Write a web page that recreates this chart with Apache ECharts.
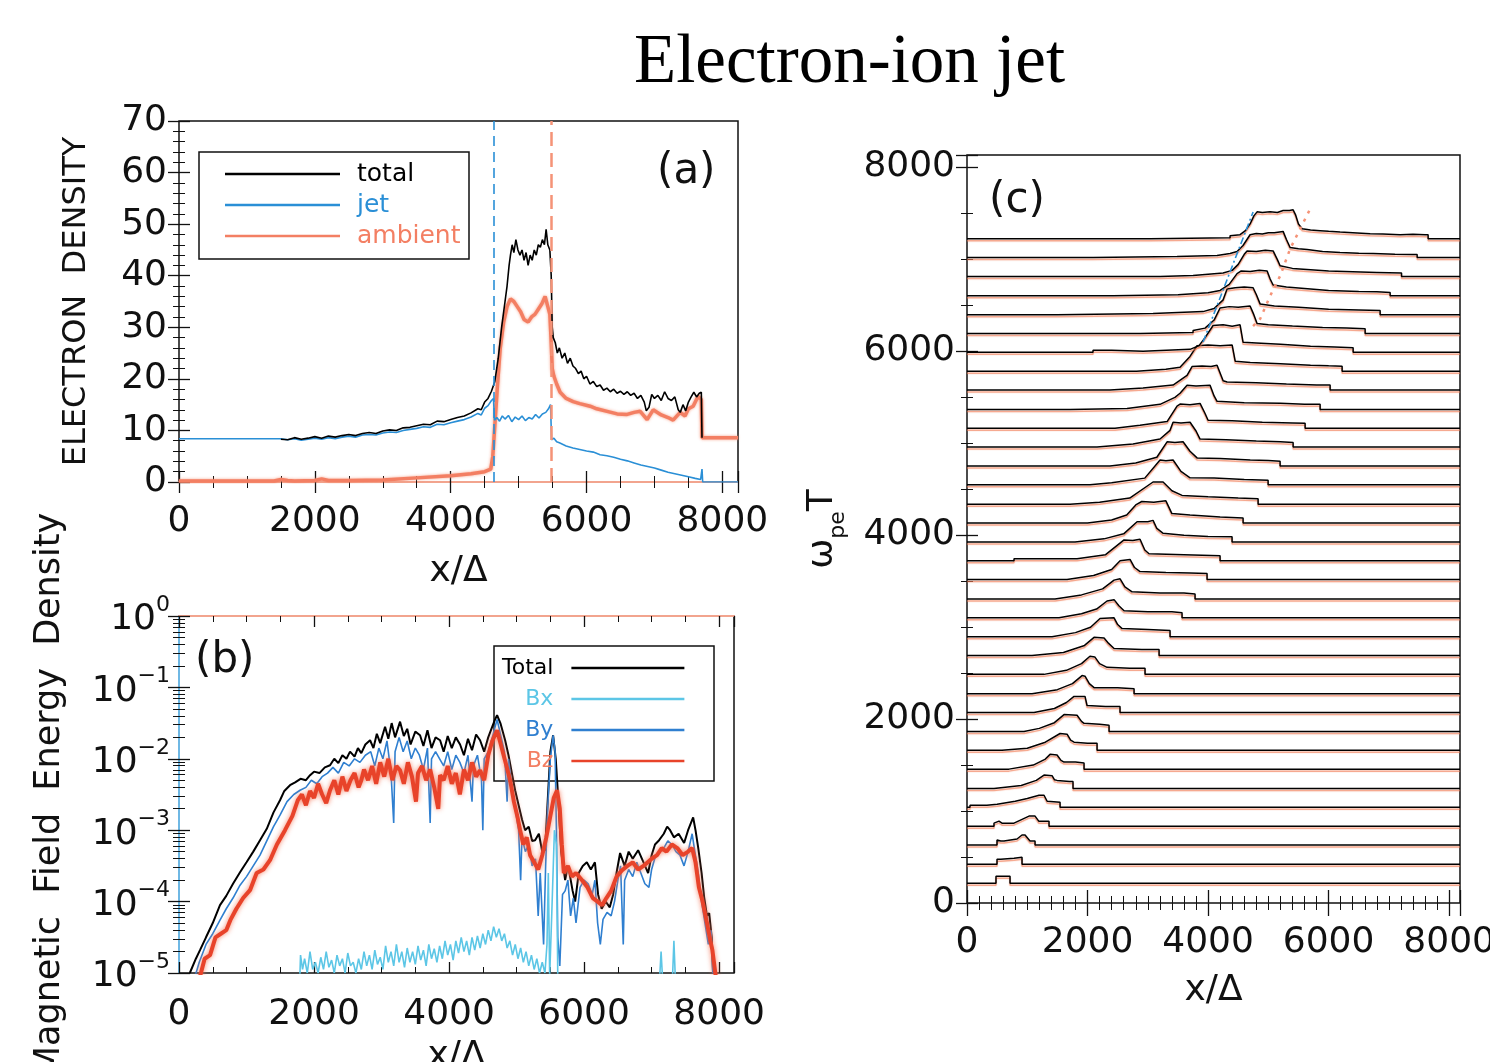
<!DOCTYPE html>
<html><head><meta charset="utf-8">
<script src="https://cdn.jsdelivr.net/npm/echarts@6/dist/echarts.min.js"></script>
<style>html,body{margin:0;padding:0;background:#fff}#c{width:1490px;height:1062px}</style>
</head><body><div id="c"></div>
<script>
// ---------- panel (a): electron density vs x/Δ ----------
const aTotal = [[1500,8.3],[1600,8.2],[1700,8.6],[1800,8.3],[1900,8.5],[2000,8.8],[2100,8.5],[2200,8.9],[2300,8.7],[2400,9.0],[2500,9.2],[2600,9.0],[2700,9.4],[2800,9.6],[2900,9.4],[3000,9.9],[3100,10.1],[3200,10.0],[3300,10.5],[3400,10.6],[3500,10.9],[3600,11.2],[3700,11.1],[3800,11.8],[3900,11.7],[4000,12.1],[4100,12.5],[4200,12.8],[4300,13.4],[4400,14.2],[4450,14.0],[4500,15.5],[4550,16.2],[4600,17.6],[4650,19.5],[4700,24],[4750,30],[4800,35],[4830,38],[4860,42],[4880,44],[4905,46],[4930,44.5],[4960,47],[4990,45],[5020,44],[5050,45],[5080,43],[5110,44.5],[5140,42],[5170,44],[5200,43],[5230,45],[5260,44],[5290,46],[5320,45.5],[5350,47],[5380,46],[5405,49],[5430,46],[5460,45],[5480,40],[5495,30],[5510,28],[5540,27],[5570,25],[5600,26],[5640,24],[5680,25],[5720,23],[5760,24],[5800,22.5],[5840,22],[5880,21],[5920,21.5],[5960,20],[6000,20.5],[6050,19],[6100,19.5],[6150,18.5],[6200,18.8],[6250,17.8],[6300,18.2],[6350,17.5],[6400,18],[6450,17.2],[6500,17.6],[6550,17.0],[6600,17.5],[6650,16.8],[6700,17.2],[6750,16.2],[6800,16.8],[6850,15.5],[6880,13.8],[6920,14.5],[6960,17],[7000,16.2],[7050,16.8],[7100,15.8],[7150,17.5],[7200,16.2],[7250,15.8],[7300,16.5],[7350,14],[7380,13.5],[7420,15],[7460,13.8],[7500,15.5],[7540,16.5],[7580,17.4],[7620,16.5],[7660,17.2],[7690,17.4],[7700,8.6]];
const aJet = [[0,8.4],[1500,8.4],[1600,8.2],[1700,8.4],[1800,8.1],[1900,8.3],[2000,8.5],[2100,8.3],[2200,8.6],[2300,8.4],[2400,8.7],[2500,8.9],[2600,8.7],[2700,9.1],[2800,9.2],[2900,9.1],[3000,9.5],[3100,9.7],[3200,9.6],[3300,10.0],[3400,10.2],[3500,10.4],[3600,10.7],[3700,10.6],[3800,11.2],[3900,11.1],[4000,11.5],[4100,11.8],[4200,12.1],[4300,12.6],[4400,13.3],[4450,13.0],[4500,14.3],[4550,14.8],[4600,15.8],[4630,16.2],[4645,12.0],[4680,12.5],[4720,11.8],[4760,12.8],[4800,12.2],[4850,12.9],[4900,11.7],[4950,12.6],[5000,12.1],[5050,12.8],[5100,11.9],[5150,12.5],[5200,12.2],[5250,13.1],[5300,12.4],[5350,13.2],[5400,13.5],[5440,14.2],[5470,15.0],[5485,8.2],[5520,8.5],[5560,7.8],[5600,7.6],[5700,7.0],[5800,6.6],[5900,6.3],[6000,6.0],[6100,5.8],[6200,5.3],[6300,5.1],[6400,4.8],[6500,4.4],[6600,4.1],[6700,3.7],[6800,3.3],[6900,3.0],[7000,2.7],[7100,2.3],[7200,1.9],[7300,1.6],[7400,1.3],[7500,1.0],[7600,0.7],[7680,0.5],[7700,2.5],[7710,0],[8230,0]];
const aAmbient = [[0,0.2],[1400,0.2],[1500,0.5],[1600,0.3],[1700,0.2],[2000,0.3],[2100,0.6],[2200,0.3],[2500,0.3],[3000,0.4],[3500,0.8],[4000,1.2],[4300,1.6],[4500,2.0],[4590,2.5],[4620,5],[4650,11],[4690,19],[4730,26],[4780,31],[4830,34],[4880,35.5],[4930,35],[4980,34],[5030,33],[5080,31.5],[5140,31],[5190,32],[5240,32.5],[5290,33.5],[5340,34.5],[5390,36],[5430,34],[5460,32.5],[5480,27],[5495,22],[5520,20.5],[5560,19],[5611,17.4],[5700,16.2],[5803,15.6],[5900,15.2],[6053,14.7],[6150,14.2],[6303,13.7],[6450,13.2],[6598,13.1],[6700,13.5],[6790,13.7],[6892,12.1],[6981,14],[7100,13],[7200,12.5],[7275,12],[7378,13.5],[7450,12.8],[7500,14.2],[7570,14.7],[7640,16.6],[7690,16],[7700,8.6],[8230,8.6]];
const aFronts = [4640, 5480];

// ---------- panel (b): magnetic field energy density (log10 values) ----------
const bTotalExp = [[160,-5.0],[250,-4.8],[311,-4.68],[400,-4.5],[500,-4.3],[607,-4.05],[700,-3.92],[800,-3.75],[904,-3.59],[1000,-3.45],[1100,-3.3],[1200,-3.14],[1300,-2.98],[1400,-2.75],[1496,-2.58],[1560,-2.45],[1644,-2.37],[1720,-2.33],[1800,-2.28],[1880,-2.3],[1941,-2.23],[2000,-2.18],[2080,-2.2],[2160,-2.12],[2237,-2.09],[2300,-2.0],[2360,-2.06],[2420,-1.95],[2480,-2.0],[2533,-1.9],[2600,-1.97],[2650,-1.85],[2700,-1.92],[2760,-1.8],[2830,-1.74],[2880,-1.85],[2930,-1.65],[2980,-1.78],[3052,-1.55],[3100,-1.72],[3150,-1.5],[3200,-1.7],[3274,-1.48],[3330,-1.68],[3380,-1.58],[3430,-1.8],[3500,-1.62],[3570,-1.67],[3620,-1.82],[3680,-1.6],[3740,-1.85],[3800,-1.7],[3867,-1.74],[3920,-1.9],[3980,-1.68],[4040,-1.85],[4100,-1.7],[4163,-1.8],[4220,-1.95],[4280,-1.72],[4340,-1.88],[4400,-1.66],[4459,-1.74],[4520,-1.9],[4580,-1.7],[4640,-1.55],[4680,-1.45],[4711,-1.39],[4760,-1.5],[4830,-1.74],[4880,-1.95],[4930,-2.2],[4978,-2.44],[5030,-2.65],[5080,-2.85],[5126,-3.0],[5180,-2.95],[5230,-3.15],[5274,-3.14],[5330,-3.05],[5380,-3.3],[5422,-3.28],[5460,-2.6],[5500,-1.9],[5541,-1.67],[5580,-2.0],[5620,-2.6],[5660,-3.3],[5719,-3.7],[5760,-3.5],[5793,-3.65],[5830,-3.85],[5867,-4.0],[5920,-3.6],[5980,-3.5],[6040,-3.45],[6100,-3.55],[6160,-3.45],[6207,-3.9],[6260,-4.1],[6320,-4.0],[6380,-4.08],[6430,-3.9],[6480,-3.6],[6533,-3.32],[6600,-3.5],[6660,-3.3],[6720,-3.4],[6800,-3.28],[6880,-3.45],[6948,-3.6],[7000,-3.35],[7050,-3.2],[7111,-3.14],[7180,-3.05],[7230,-2.95],[7274,-3.0],[7330,-3.1],[7400,-3.05],[7481,-3.18],[7540,-3.0],[7615,-2.82],[7650,-3.0],[7689,-3.24],[7740,-3.6],[7778,-3.94],[7820,-4.2],[7852,-4.16],[7890,-4.5],[7911,-5.05]];
const bByExp = [[237,-5.05],[300,-4.85],[400,-4.6],[500,-4.45],[607,-4.26],[700,-4.1],[800,-3.95],[904,-3.77],[1000,-3.65],[1100,-3.5],[1200,-3.35],[1300,-3.15],[1400,-2.95],[1496,-2.79],[1600,-2.6],[1700,-2.5],[1793,-2.44],[1880,-2.4],[1960,-2.3],[2040,-2.35],[2120,-2.25],[2200,-2.2],[2280,-2.12],[2360,-2.2],[2440,-2.05],[2520,-2.1],[2600,-2.0],[2680,-2.05],[2760,-1.95],[2840,-1.9],[2900,-2.1],[2960,-1.85],[3020,-2.0],[3080,-1.75],[3140,-2.2],[3180,-2.9],[3200,-1.9],[3260,-1.7],[3320,-1.9],[3380,-1.75],[3440,-2.0],[3500,-1.85],[3560,-1.95],[3620,-2.15],[3680,-1.85],[3720,-2.9],[3740,-2.0],[3800,-1.9],[3860,-2.0],[3920,-2.1],[3980,-1.9],[4040,-2.15],[4100,-1.95],[4160,-2.05],[4220,-2.2],[4280,-1.95],[4340,-2.6],[4360,-2.1],[4420,-1.95],[4480,-2.3],[4500,-3.0],[4520,-2.0],[4580,-1.9],[4640,-1.7],[4711,-1.45],[4760,-1.65],[4820,-1.9],[4860,-2.6],[4880,-2.0],[4930,-2.4],[4980,-2.7],[5030,-3.0],[5060,-3.7],[5080,-3.1],[5130,-3.3],[5180,-3.2],[5230,-3.5],[5280,-3.4],[5320,-4.2],[5350,-3.6],[5400,-4.6],[5430,-3.5],[5460,-2.7],[5500,-2.0],[5541,-1.67],[5570,-1.9],[5590,-3.0],[5610,-4.5],[5640,-4.9],[5680,-3.9],[5719,-3.85],[5760,-3.7],[5800,-4.2],[5840,-3.95],[5880,-4.3],[5940,-3.8],[6000,-3.7],[6060,-3.75],[6120,-3.9],[6160,-3.7],[6200,-4.3],[6240,-4.6],[6280,-4.25],[6340,-4.15],[6400,-4.2],[6450,-4.0],[6500,-3.7],[6540,-3.5],[6580,-4.6],[6600,-3.7],[6660,-3.55],[6720,-3.65],[6780,-3.45],[6840,-3.6],[6900,-3.75],[6960,-3.8],[7000,-3.55],[7060,-3.35],[7120,-3.3],[7180,-3.25],[7240,-3.15],[7300,-3.2],[7360,-3.3],[7420,-3.35],[7480,-3.5],[7540,-3.3],[7600,-3.05],[7640,-3.3],[7690,-3.6],[7740,-4.0],[7790,-4.3],[7840,-4.6],[7880,-4.4],[7910,-5.05]];
const bBzExp = [[311,-5.05],[380,-4.8],[460,-4.75],[540,-4.5],[620,-4.45],[700,-4.4],[760,-4.26],[850,-4.1],[950,-3.95],[1052,-3.84],[1150,-3.6],[1250,-3.55],[1348,-3.42],[1450,-3.2],[1570,-3.0],[1680,-2.8],[1760,-2.58],[1820,-2.5],[1880,-2.65],[1940,-2.45],[2000,-2.55],[2060,-2.35],[2120,-2.5],[2180,-2.62],[2237,-2.44],[2300,-2.3],[2360,-2.5],[2420,-2.25],[2480,-2.45],[2540,-2.3],[2600,-2.2],[2660,-2.4],[2700,-2.3],[2740,-2.15],[2800,-2.3],[2860,-2.1],[2920,-2.35],[2980,-2.05],[3040,-2.25],[3100,-2.0],[3160,-2.3],[3220,-2.1],[3274,-2.16],[3330,-2.35],[3390,-2.05],[3450,-2.25],[3510,-2.6],[3540,-2.2],[3600,-2.1],[3660,-2.3],[3720,-2.15],[3780,-2.4],[3840,-2.7],[3867,-2.23],[3920,-2.3],[3980,-2.1],[4040,-2.35],[4100,-2.2],[4160,-2.5],[4220,-2.15],[4280,-2.3],[4340,-2.05],[4400,-2.25],[4459,-2.16],[4520,-2.3],[4580,-1.95],[4640,-1.75],[4711,-1.6],[4780,-1.85],[4850,-2.1],[4904,-2.3],[4960,-2.6],[5010,-2.8],[5052,-3.0],[5100,-3.2],[5150,-3.1],[5200,-3.35],[5260,-3.45],[5320,-3.55],[5380,-3.35],[5440,-3.1],[5500,-2.8],[5550,-2.55],[5600,-2.44],[5640,-2.7],[5670,-3.2],[5700,-3.6],[5760,-3.5],[5820,-3.65],[5880,-3.6],[5970,-3.7],[6050,-3.8],[6130,-3.95],[6200,-4.0],[6267,-4.05],[6330,-3.95],[6400,-3.85],[6480,-3.65],[6563,-3.56],[6640,-3.5],[6720,-3.45],[6800,-3.55],[6880,-3.5],[7000,-3.4],[7080,-3.35],[7150,-3.25],[7220,-3.3],[7300,-3.2],[7380,-3.25],[7460,-3.35],[7540,-3.3],[7600,-3.25],[7650,-3.45],[7700,-3.8],[7750,-3.98],[7820,-4.3],[7870,-4.55],[7900,-4.68],[7950,-5.05]];
const bBxExp = [[1790,-5.05],[1800,-4.75],[1830,-4.95],[1860,-4.8],[1900,-5.0],[1940,-4.7],[1980,-4.95],[2020,-4.85],[2060,-5.0],[2100,-4.78],[2140,-4.95],[2180,-4.7],[2220,-4.92],[2260,-4.82],[2300,-5.0],[2340,-4.75],[2380,-4.9],[2420,-4.8],[2460,-5.0],[2500,-4.72],[2540,-4.9],[2580,-4.85],[2620,-5.0],[2660,-4.8],[2700,-4.95],[2740,-4.7],[2780,-4.9],[2820,-4.75],[2860,-4.95],[2900,-4.68],[2940,-4.88],[2980,-4.78],[3020,-4.95],[3060,-4.62],[3100,-4.85],[3140,-4.7],[3180,-4.9],[3220,-4.6],[3260,-4.85],[3300,-4.7],[3340,-4.92],[3380,-4.65],[3420,-4.85],[3460,-4.7],[3500,-4.88],[3540,-4.62],[3580,-4.82],[3620,-4.68],[3660,-4.9],[3700,-4.6],[3740,-4.8],[3780,-4.66],[3820,-4.85],[3860,-4.62],[3900,-4.8],[3940,-4.55],[3980,-4.75],[4020,-4.6],[4060,-4.82],[4100,-4.55],[4140,-4.72],[4180,-4.5],[4220,-4.7],[4260,-4.55],[4300,-4.75],[4340,-4.5],[4380,-4.68],[4420,-4.48],[4460,-4.65],[4500,-4.45],[4540,-4.6],[4580,-4.4],[4620,-4.55],[4660,-4.35],[4700,-4.5],[4740,-4.38],[4780,-4.55],[4820,-4.45],[4860,-4.65],[4900,-4.55],[4940,-4.75],[4980,-4.6],[5020,-4.8],[5060,-4.65],[5100,-4.85],[5140,-4.7],[5180,-4.9],[5220,-4.75],[5260,-4.95],[5300,-4.8],[5340,-5.0],[5380,-4.85],[5420,-5.0],[5450,-4.6],[5470,-3.6],[5490,-5.05],[5520,-4.2],[5560,-3.0],[5590,-3.2],[5610,-5.05],[5620,null],[7120,-5.05],[7140,-4.7],[7160,-5.05],[7170,null],[7310,-5.05],[7330,-4.55],[7350,-5.05]];

// ---------- panel (c): stacked density profiles, one per time ω_pe T ----------
const cTimes = [215, 420, 630, 835, 1040, 1245, 1455, 1660, 1865, 2070, 2275, 2485, 2690, 2895, 3100, 3305, 3515, 3720, 3925, 4130, 4335, 4545, 4750, 4955, 5160, 5365, 5575, 5780, 5985, 6190, 6395, 6600, 6810, 7015, 7220];
// density excess (x/Δ, Δn) for each time above, bottom trace first
const cProfiles = [
 [[0,0],[481,0],[481,10.5],[714,10.5],[714,0],[8180,0]],
 [[0,0],[498,0],[498,7.5],[560,7.5],[580,9],[780,9],[800,10.5],[913,10.5],[913,0],[8180,0]],
 [[0,0],[498,0],[498,7.5],[560,6],[614,6],[830,9],[913,15],[963,15],[1046,6],[1129,6],[1129,0],[8180,0]],
 [[0,0],[448,0],[448,4.5],[531,7.5],[580,4.5],[780,4.5],[1029,15],[1129,15],[1190,7.5],[1361,7.5],[1361,0],[8180,0]],
 [[0,0],[50,0],[50,3],[330,3],[500,4.5],[800,9],[1000,13],[1195,18],[1278,18],[1330,9],[1361,7.5],[1544,7.5],[1544,0],[8180,0]],
 [[0,0],[448,0],[448,1.5],[900,4.5],[1150,12],[1278,20],[1411,19],[1450,13],[1494,12],[1700,10.5],[1759,10.5],[1759,0],[8180,0]],
 [[0,0],[697,0],[697,1.5],[1100,6],[1300,15],[1378,22],[1494,21],[1560,13],[1610,10.5],[1800,10.5],[1942,9],[1942,0],[8180,0]],
 [[0,0],[581,0],[581,1.5],[1000,3],[1000,4.5],[1300,12],[1544,25],[1660,24],[1720,15],[1776,12],[2000,10.5],[2158,10.5],[2158,0],[8180,0]],
 [[0,0],[946,0],[946,1.5],[1200,4.5],[1450,13],[1610,25],[1826,24],[1900,15],[1942,12],[2200,10.5],[2357,9],[2357,0],[8180,0]],
 [[0,0],[1112,0],[1112,1.5],[1450,6],[1650,15],[1776,24],[1958,24],[1992,10.5],[2300,9],[2539,9],[2539,0],[8180,0]],
 [[0,0],[1079,0],[1079,1.5],[1500,6],[1750,15],[1909,27],[1958,26],[2030,15],[2108,9],[2500,9],[2772,7.5],[2772,0],[8180,0]],
 [[0,0],[1278,0],[1278,1.5],[1650,6],[1900,16],[2040,27],[2120,26],[2200,16],[2324,10.5],[2700,9],[2954,9],[2954,0],[8180,0]],
 [[0,0],[1079,0],[1079,1.5],[1600,4.5],[1950,15],[2108,27],[2274,26],[2350,18],[2440,10.5],[2900,9],[3187,9],[3187,0],[8180,0]],
 [[0,0],[1411,0],[1411,1.5],[1800,6],[2050,14],[2207,27],[2440,28],[2500,18],[2573,12],[3000,10.5],[3369,9],[3369,0],[8180,0]],
 [[0,0],[1527,0],[1527,1.5],[1900,6],[2150,13],[2324,25],[2440,27],[2520,18],[2606,10.5],[3000,9],[3400,9],[3568,7.5],[3568,0],[8180,0]],
 [[0,0],[1461,0],[1461,1.5],[1900,6],[2250,15],[2440,28],[2540,30],[2620,18],[2739,10.5],[3200,9],[3600,9],[3784,7.5],[3784,0],[8180,0]],
 [[0,0],[1660,0],[1660,1.5],[2100,6],[2400,15],[2540,28],[2705,30],[2780,18],[2871,12],[3300,10.5],[3700,10],[3983,9],[3983,0],[8180,0]],
 [[0,0],[780,0],[780,3],[1300,3],[1330,1.5],[1380,3],[1826,3],[1826,4.5],[2300,9],[2606,31],[2750,30],[2871,32],[2950,16],[3020,10.5],[3600,9],[4199,7.5],[4199,0],[8180,0]],
 [[0,0],[1793,0],[1793,1.5],[2274,4.5],[2600,12],[2822,30],[3000,30],[3087,32],[3150,20],[3250,13],[3600,10],[4000,8],[4398,7.5],[4398,0],[8180,0]],
 [[0,0],[2000,0],[2000,1.5],[2400,4.5],[2650,12],[2800,27],[2900,32],[3100,31],[3300,33],[3400,14],[3700,12],[4200,9],[4581,7.5],[4581,0],[8180,0]],
 [[0,0],[1710,0],[1710,1.5],[2200,3],[2700,9],[3087,33],[3180,33],[3253,33],[3400,20],[3568,13],[4000,11],[4500,9],[4830,8],[4830,0],[8180,0]],
 [[0,0],[2041,0],[2041,1.5],[2400,3],[2950,10],[3203,37],[3300,36],[3419,37],[3550,20],[3701,10.5],[4100,10],[4600,8],[4996,7],[4996,0],[8180,0]],
 [[0,0],[2373,0],[2373,1.5],[2800,4.5],[3150,13],[3320,36],[3450,35],[3585,36],[3700,22],[3817,12],[4200,11],[4700,9],[5000,8],[5195,7],[5195,0],[8180,0]],
 [[0,0],[2158,0],[2158,1.5],[2755,4.5],[3203,12],[3369,25],[3419,37],[3550,36],[3701,37],[3800,24],[3867,12],[4300,11],[4800,9],[5200,8],[5411,7],[5411,0],[8180,0]],
 [[0,0],[2456,0],[2456,1.5],[2871,4.5],[3320,10],[3485,33],[3535,36],[3700,35],[3867,37],[3950,22],[4000,12],[4400,11],[4900,9],[5400,8],[5610,7.5],[5610,0],[8180,0]],
 [[0,0],[1710,0],[1710,1.5],[2656,1.5],[2656,3],[3203,7.5],[3450,18],[3535,24],[3651,36],[3800,35],[4033,36],[4100,20],[4149,12],[4600,10],[5200,9],[5600,7.5],[5859,7.5],[5859,0],[8180,0]],
 [[0,0],[2373,0],[2373,1.5],[2921,3],[3419,7.5],[3651,22],[3734,35],[3900,36],[4050,35],[4149,37],[4250,14],[4315,12],[4800,11],[5300,9],[5800,7.5],[6025,7.5],[6025,0],[8180,0]],
 [[0,0],[2813,0],[2813,1.5],[3300,3],[3535,6],[3700,22],[3817,38],[4000,39],[4200,38],[4400,39],[4450,15],[4700,13],[5200,11],[5700,9],[6000,8],[6224,7.5],[6224,0],[8180,0]],
 [[0,0],[2091,0],[2091,3],[2400,3],[2400,1.5],[2921,1.5],[2921,3],[3701,4.5],[3850,10],[3950,22],[4083,40],[4250,41],[4400,39],[4531,41],[4581,15],[4800,14],[5200,12],[5700,9],[6100,8],[6407,7],[6407,0],[8180,0]],
 [[0,0],[2871,0],[2871,1.5],[3751,1.5],[3751,4.5],[3950,8],[4100,20],[4199,38],[4350,40],[4500,39],[4697,41],[4750,30],[4813,15],[5000,13],[5400,11],[5900,9],[6300,8],[6606,7],[6606,0],[8180,0]],
 [[0,0],[1494,0],[1494,1.5],[3087,1.5],[3087,3],[3917,4.5],[4100,9],[4250,22],[4315,38],[4450,40],[4600,41],[4747,40],[4800,30],[4863,16],[5100,13],[5500,11],[6000,8],[6500,7],[6855,6],[6855,0],[8180,0]],
 [[0,0],[2423,0],[2423,1.5],[3502,1.5],[3502,3],[4000,4.5],[4200,8],[4350,17],[4481,33],[4550,37],[4700,36],[4850,38],[4980,37],[5030,25],[5079,16],[5300,13],[5600,11],[6000,8],[6500,6.5],[6800,6],[7021,5],[7021,0],[8180,0]],
 [[0,0],[3203,0],[3203,1.5],[3751,1.5],[3751,3],[4250,5],[4400,9],[4500,18],[4600,33],[4647,38],[4800,37],[4950,39],[5079,38],[5150,25],[5195,16],[5400,12],[5700,10],[6000,8],[6400,7],[6800,6],[7000,5.5],[7210,5],[7210,0],[8180,0]],
 [[0,0],[2091,0],[2091,1.5],[3485,1.5],[3485,3],[4149,3],[4149,4.5],[4365,6],[4481,9],[4580,18],[4697,34],[4800,36],[4900,35],[5000,37],[5100,37],[5245,39],[5300,27],[5361,15],[5500,13],[5643,12],[5900,9],[6190,7.5],[6500,6.5],[6739,6],[7100,5],[7403,4.5],[7469,4.5],[7469,0],[8180,0]],
 [[0,0],[3037,0],[3037,1.5],[4365,1.5],[4365,4.5],[4531,6],[4620,12],[4697,22],[4760,34],[4813,40],[4900,39],[5029,40],[5150,39],[5245,42],[5350,42],[5411,43],[5450,36],[5500,22],[5560,15],[5700,13],[5859,12],[6000,11],[6190,10],[6400,9],[6689,7.5],[6900,7],[7187,6],[7400,6.5],[7602,6],[7651,6],[7651,0],[8180,0]]
];
const cJetFront = [[3917,6098],[4747,7511]];
const cAmbientFront = [[4747,6270],[4863,6348],[5029,6598],[5195,6815],[5361,7109],[5577,7391],[5693,7543]];
const cDensityScale = 7.3; // ω_pe T units per unit of density excess

// ---------- styling ----------
const FONT = "'DejaVu Sans', sans-serif";
const INK = '#111';
const C_JET = '#2a8fd6', C_AMB = '#f37f63', C_BX = '#5cc6e6', C_BY = '#2f7fd0', C_BZ = '#e8432a';

function axis(o) {
  const a = {
    type: o.type || 'value', gridIndex: o.grid, position: o.pos,
    min: o.min, max: o.max,
    axisLine: o.lineColor ? {show: true, lineStyle: {color: o.lineColor, width: 2}} : {show: false},
    splitLine: {show: false},
    axisTick: {show: true, inside: true, length: o.tickLen || 11, lineStyle: {color: INK, width: 1.3}},
    minorTick: {show: true, splitNumber: o.minor, length: o.minorLen || 6, lineStyle: {color: INK, width: 1}},
    axisLabel: {show: !!o.labels, color: INK, fontFamily: FONT, fontSize: 36, margin: o.margin || 12,
      showMaxLabel: o.showMax !== false, hideOverlap: false,
      formatter: o.formatter || (v => String(v)), rich: o.rich},
    name: o.name, nameLocation: 'middle', nameGap: o.nameGap, nameRotate: o.nameRotate,
    nameTextStyle: Object.assign({color: INK, fontFamily: FONT, fontSize: 36}, o.nameStyle || {})
  };
  if (o.interval != null) a.interval = o.interval;
  if (o.logBase) a.logBase = o.logBase;
  if (o.splitNumber) a.splitNumber = o.splitNumber;
  return a;
}

const supRich = {
  b: {fontFamily: FONT, fontSize: 36, color: INK, lineHeight: 44, verticalAlign: 'bottom'},
  s: {fontFamily: FONT, fontSize: 22, color: INK, lineHeight: 44, verticalAlign: 'top'}
};
function logLabel(v) {
  const e = Math.round(Math.log10(v));
  return '{b|10}{s|' + (e === 0 ? '0' : '\u2212' + (-e)) + '}';
}

const SALMON_FRAME = '#f2a48e';
const xAxes = [
  axis({grid: 0, pos: 'bottom', min: 0, max: 8230, interval: 2000, minor: 4, labels: true, margin: 22, showMax: false,
        name: 'x/\u0394', nameGap: 72}),
  axis({grid: 0, pos: 'top', min: 0, max: 8230, interval: 2000, minor: 4, lineColor: SALMON_FRAME}),
  axis({grid: 1, pos: 'bottom', min: 0, max: 8220, interval: 2000, minor: 4, labels: true, margin: 24, showMax: false,
        name: 'x/\u0394', nameGap: 66}),
  axis({grid: 1, pos: 'top', min: 0, max: 8220, interval: 2000, minor: 4, lineColor: SALMON_FRAME}),
  axis({grid: 2, pos: 'bottom', min: 0, max: 8180, interval: 2000, minor: 10, labels: true, margin: 22, showMax: false,
        tickLen: 13, minorLen: 7, name: 'x/\u0394', nameGap: 70}),
  axis({grid: 2, pos: 'top', min: 0, max: 8180, interval: 2000, minor: 10, tickLen: 13, minorLen: 7})
];
const yAxes = [
  axis({grid: 0, pos: 'left', min: 0, max: 70, interval: 10, minor: 5, labels: true, margin: 12,
        name: 'ELECTRON  DENSITY', nameGap: 86, nameRotate: 90, nameStyle: {fontSize: 32}}),
  axis({grid: 0, pos: 'right', min: 0, max: 70, interval: 10, minor: 5}),
  axis({grid: 1, pos: 'left', type: 'log', logBase: 10, min: 1e-5, max: 1, splitNumber: 5, minor: 9, labels: true, margin: 9,
        lineColor: '#6fb8e4', formatter: logLabel, rich: supRich, name: 'Magnetic  Field  Energy  Density', nameGap: 112,
        nameRotate: 90, nameStyle: {fontSize: 35}}),
  axis({grid: 1, pos: 'right', type: 'log', logBase: 10, min: 1e-5, max: 1, splitNumber: 5, minor: 9}),
  axis({grid: 2, pos: 'left', min: 0, max: 8130, interval: 2000, minor: 4, labels: true, margin: 12, showMax: false,
        name: '{w|\u03c9}{s|pe}{w|T}', nameGap: 118, nameRotate: 90,
        nameStyle: {rich: {w: {fontFamily: FONT, fontSize: 36, color: INK, lineHeight: 44, verticalAlign: 'top'},
                           s: {fontFamily: FONT, fontSize: 22, color: INK, lineHeight: 44, verticalAlign: 'bottom'}}}}),
  axis({grid: 2, pos: 'right', min: 0, max: 8130, interval: 2000, minor: 4})
];

const grids = [
  {left: 179, top: 121, width: 559, height: 361},
  {left: 179, top: 616, width: 555, height: 357},
  {left: 967, top: 155, width: 493, height: 748}
].map(g => Object.assign(g, {show: true, borderColor: INK, borderWidth: 1.5, backgroundColor: 'transparent',
                             containLabel: false, outerBoundsMode: 'none'}));

function line(name, xi, yi, data, style, extra) {
  return Object.assign({type: 'line', name, xAxisIndex: xi, yAxisIndex: yi, data, showSymbol: false, symbol: 'none',
    silent: true, clip: true, lineStyle: style, itemStyle: {color: style.color}, emphasis: {disabled: true}}, extra || {});
}
const pow = arr => arr.map(([x, e]) => [x, e == null ? '-' : Math.pow(10, e)]);

const series = [
  line('ambient', 0, 0, aAmbient, {color: C_AMB, width: 3.5, shadowBlur: 3, shadowColor: 'rgba(245,140,110,0.8)'}),
  line('jet', 0, 0, aJet, {color: C_JET, width: 1.6}, {
    markLine: {symbol: 'none', silent: true, label: {show: false}, animation: false,
      data: [{xAxis: aFronts[0], lineStyle: {color: C_JET, width: 1.6, type: [10, 6]}},
             {xAxis: aFronts[1], lineStyle: {color: '#f59377', width: 2.5, type: [14, 7]}}]}}),
  line('total', 0, 0, aTotal, {color: '#000', width: 1.6}),
  line('Total', 2, 2, pow(bTotalExp), {color: '#000', width: 2}),
  line('By', 2, 2, pow(bByExp), {color: C_BY, width: 1.6}),
  line('Bz', 2, 2, pow(bBzExp), {color: C_BZ, width: 4, shadowBlur: 5, shadowColor: 'rgba(245,120,90,0.9)'}),
  line('Bx', 2, 2, pow(bBxExp), {color: C_BX, width: 1.6}, {connectNulls: false})
];
cProfiles.forEach((prof, i) => {
  const t = cTimes[i];
  series.push(line('p' + t, 4, 4, prof.map(([x, dn]) => [x, t + cDensityScale * dn]),
    {color: '#000', width: 1.5, shadowColor: 'rgba(240,120,80,0.75)', shadowOffsetY: 2, shadowBlur: 1}));
});
series.push(line('jetFront', 4, 4, cJetFront, {color: C_JET, width: 1.6, type: [7, 3, 2, 3]}));
series.push(line('ambFront', 4, 4, cAmbientFront, {color: '#f59377', width: 2.5, type: [3, 6]}));

const legendBase = {orient: 'vertical', borderWidth: 0, itemHeight: 2.5, itemGap: 3, padding: 0,
  icon: 'rect', selectedMode: false};
const option = {
  animation: false,
  backgroundColor: '#fff',
  grid: grids, xAxis: xAxes, yAxis: yAxes, series,
  legend: [
    Object.assign({}, legendBase, {left: 225, top: 160, align: 'left', itemWidth: 115,
      textStyle: {fontFamily: FONT, fontSize: 25, lineHeight: 28, padding: [0, 0, 0, 12]},
      data: [{name: 'total', textStyle: {color: '#000'}}, {name: 'jet', textStyle: {color: C_JET}},
             {name: 'ambient', textStyle: {color: C_AMB}, itemStyle: {color: C_AMB}}]}),
    Object.assign({}, legendBase, {left: 502, top: 654, align: 'right', itemWidth: 113,
      textStyle: {fontFamily: FONT, fontSize: 22, lineHeight: 28, padding: [0, 13, 0, 0]},
      data: [{name: 'Total', textStyle: {color: '#000'}}, {name: 'Bx', textStyle: {color: C_BX}},
             {name: 'By', textStyle: {color: C_BY}}, {name: 'Bz', textStyle: {color: C_AMB}}]})
  ],
  graphic: [
    {type: 'text', left: 634, top: 29, style: {text: 'Electron-ion jet', font: "69px 'Liberation Serif', serif", fill: '#000'}},
    {type: 'text', left: 657, top: 151, style: {text: '(a)', font: "42px " + FONT, fill: INK}},
    {type: 'text', left: 195, top: 640, style: {text: '(b)', font: "42px " + FONT, fill: INK}},
    {type: 'text', left: 989, top: 180, style: {text: '(c)', font: "42px " + FONT, fill: INK}},
    {type: 'rect', shape: {x: 199, y: 152, width: 270, height: 107}, style: {fill: 'none', stroke: INK, lineWidth: 1.5}, silent: true},
    {type: 'rect', shape: {x: 494, y: 646, width: 220, height: 135}, style: {fill: 'none', stroke: INK, lineWidth: 1.5}, silent: true}
  ]
};
const chart = echarts.init(document.getElementById('c'), null, {renderer: 'canvas'});
chart.setOption(option);
</script></body></html>
